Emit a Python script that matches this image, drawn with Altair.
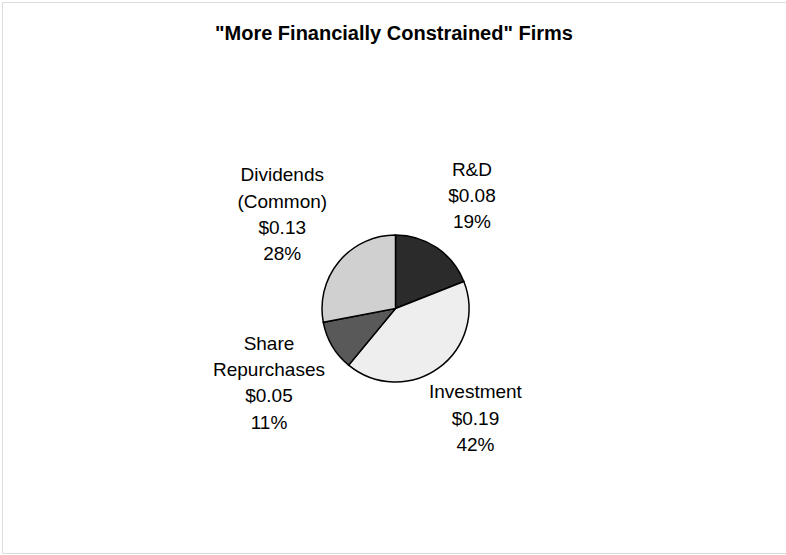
import altair as alt
import pandas as pd

# ---- data ----
categories = ["R&D", "Investment", "Share Repurchases", "Dividends (Common)"]
label_names = ["R&D", "Investment", "Share\nRepurchases", "Dividends\n(Common)"]
amounts = ["$0.08", "$0.19", "$0.05", "$0.13"]
percents = [19, 42, 11, 28]

# ---- styling (pattern fills approximated by their mean grey) ----
fills = ["#2b2b2b", "#eeeeee", "#595959", "#d0d0d0"]

labels_txt = [f"{n}\n{a}\n{p}%" for n, a, p in zip(label_names, amounts, percents)]
df = pd.DataFrame({
    "idx": list(range(len(categories))),
    "cat": categories,
    "pct": percents,
    "label": labels_txt,
    "nlines": [t.count("\n") + 1 for t in labels_txt],
})

FONT = "Liberation Sans, Arial, sans-serif"
CX, CY = 393.5, 306.5
LH = 26.3

base = alt.Chart(df).encode(
    theta=alt.Theta("pct:Q", stack=True),
    order=alt.Order("idx:Q"),
)

pie = base.mark_arc(
    outerRadius=73.5, stroke="black", strokeWidth=1.5
).encode(
    color=alt.Color("cat:N", scale=alt.Scale(domain=categories, range=fills), legend=None),
    x=alt.value(CX),
    y=alt.value(CY),
)


def label_layer(n, radius):
    # Vega puts the first line at the anchor; shift so the block is centred on it
    return base.mark_text(
        radius=radius, font=FONT, fontSize=19, lineHeight=LH, lineBreak="\n",
        align="center", baseline="middle", color="black", dy=-(n - 1) * LH / 2,
    ).encode(
        text="label:N",
        x=alt.value(CX),
        y=alt.value(CY),
        opacity=alt.condition(f"datum.nlines == {n}", alt.value(1), alt.value(0)),
    )


chart = alt.layer(pie, label_layer(3, 136), label_layer(4, 147)).properties(
    width=784,
    height=551,
    padding={"left": 2, "top": 2, "right": 0, "bottom": 2},
    autosize=alt.AutoSizeParams(type="none"),
    title=alt.TitleParams(
        text='"More Financially Constrained" Firms',
        font=FONT, fontSize=20, fontWeight="bold", color="black",
        anchor="middle", baseline="alphabetic", offset=-58,
    ),
).configure_view(
    stroke="#222222", strokeWidth=1.5, fill="white"
).configure(background="white")

chart.save("out.html", embed_options={"renderer": "svg", "actions": False})
